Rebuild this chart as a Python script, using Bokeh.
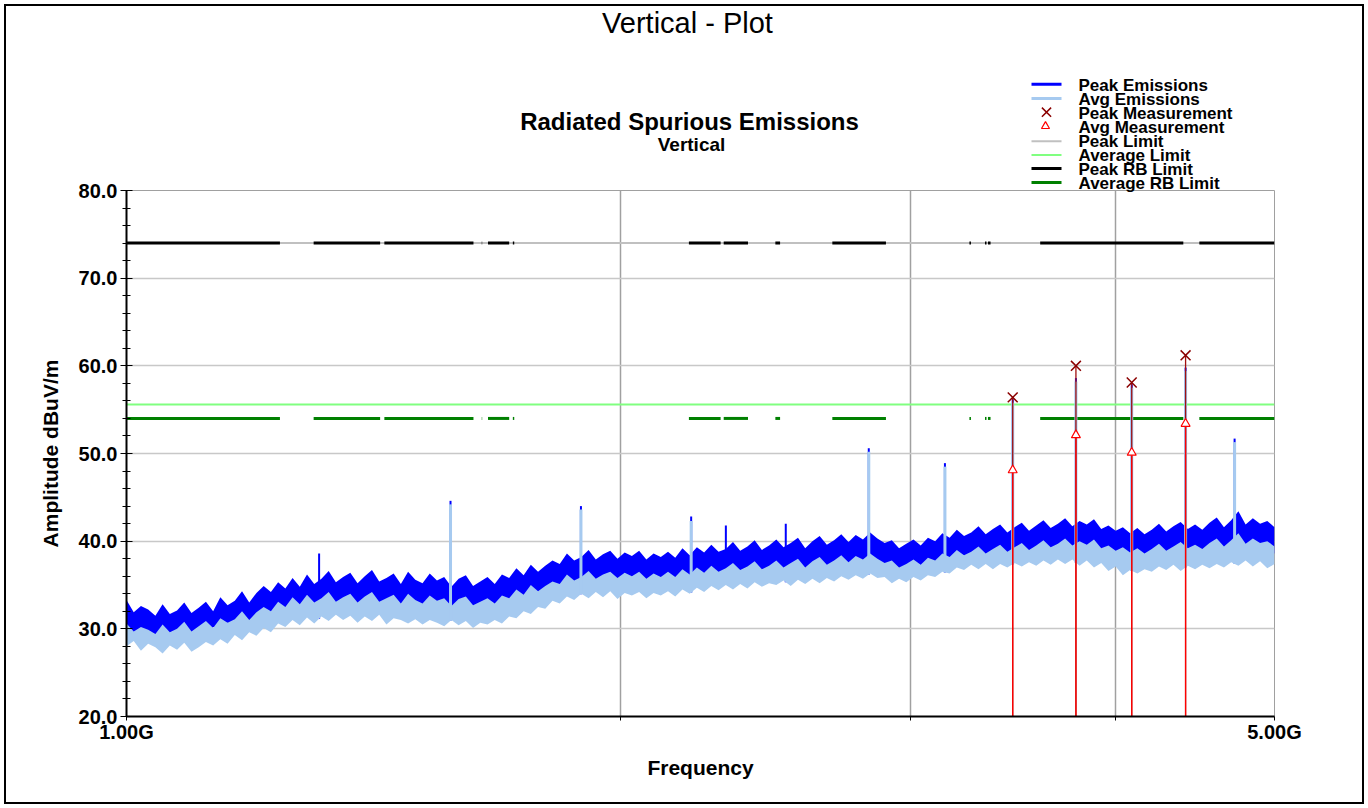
import numpy as np
from bokeh.plotting import figure
from bokeh.models import (Range1d, FixedTicker, SingleIntervalTicker, PrintfTickFormatter)
from bokeh.core.properties import value
from bokeh.embed import file_html
from bokeh.resources import INLINE

# ---------------- data ----------------
F_START, F_STOP = 1.0, 5.0          # GHz
x_ticks = [1.0, 2.0, 3.0, 4.0, 5.0]
x_tick_labels = {1.0: "1.00G", 2.0: "", 3.0: "", 4.0: "", 5.0: "5.00G"}

peak_hi = [
    33.3, 31.9, 32.6, 32.2, 31.5, 32.8, 31.7, 32.1, 33.0, 31.8,
    32.4, 33.1, 32.0, 33.6, 32.7, 33.2, 34.3, 33.0, 34.1, 34.9,
    34.2, 35.3, 34.6, 35.8, 34.8, 36.2, 35.1, 35.7, 36.6, 35.3,
    35.9, 36.4, 35.2, 36.0, 36.7, 35.4, 35.8, 36.3, 35.1, 36.5,
    35.6, 35.2, 36.3, 35.5, 35.9, 34.8, 35.7, 36.1, 34.9, 35.4,
    35.9, 35.1, 36.2, 35.8, 36.9, 36.1, 37.3, 36.5, 37.2, 37.8,
    37.4, 38.6, 37.8, 38.2, 39.0, 37.9, 38.5, 38.9, 38.0, 38.7,
    38.3, 38.9, 37.9, 38.6, 38.2, 38.8, 38.1, 39.2, 38.4, 39.3,
    38.7, 39.6, 38.8, 39.1, 39.9, 38.9, 39.4, 40.1, 39.0, 39.5,
    40.2, 39.3, 39.8, 40.4, 39.2, 40.0, 40.6, 39.6, 40.1, 40.8,
    39.9, 40.7, 40.2, 41.0, 40.3, 39.8, 40.1, 39.2, 39.7, 40.2,
    39.5, 40.4, 40.0, 40.9, 40.4, 41.3, 40.6, 41.0, 41.7, 40.8,
    41.4, 41.9, 41.0, 41.6, 42.1, 41.2, 41.8, 42.4, 41.5, 42.0,
    42.6, 41.7, 42.3, 41.9, 42.5, 41.4, 41.8, 41.2, 41.6, 40.9,
    41.5, 40.8, 41.3, 42.0, 41.1, 41.7, 42.2, 41.4, 41.9, 41.3,
    42.1, 42.7, 41.6, 42.4, 43.4, 41.9, 42.6, 42.0, 42.3, 41.6,
]
peak_lo = [
    29.6, 29.2, 29.8, 29.0, 29.4, 28.9, 29.5, 29.1, 29.6, 29.2,
    29.8, 29.4, 30.2, 29.9, 30.7, 30.3, 31.0, 30.6, 31.5, 31.2,
    31.9, 31.5, 32.4, 32.0, 32.7, 32.3, 32.9, 32.4, 32.8, 32.4,
    33.0, 32.6, 32.8, 32.3, 32.9, 32.5, 32.7, 32.2, 32.8, 32.4,
    32.7, 32.2, 32.9, 32.3, 32.6, 32.0, 32.5, 32.1, 32.3, 31.9,
    32.4, 32.2, 32.8, 32.6, 33.4, 33.1, 33.8, 33.5, 34.2, 33.9,
    34.7, 34.4, 35.2, 34.8, 35.4, 35.0, 35.6, 35.1, 35.4, 34.9,
    35.3, 34.9, 35.4, 34.8, 35.2, 34.9, 35.5, 35.2, 35.8, 35.5,
    35.9, 35.6, 36.1, 35.7, 36.2, 35.8, 36.3, 35.9, 36.4, 36.0,
    36.5, 36.1, 36.6, 36.2, 36.7, 36.3, 36.8, 36.4, 37.0, 36.6,
    37.1, 36.7, 37.4, 37.0, 37.6, 36.9, 36.5, 36.2, 36.6, 36.3,
    36.8, 36.5, 37.2, 37.0, 37.7, 37.4, 38.0, 37.7, 38.2, 37.8,
    38.3, 37.9, 38.4, 38.1, 38.5, 38.2, 38.7, 38.3, 39.0, 38.6,
    39.1, 38.7, 39.0, 38.6, 38.8, 38.4, 38.4, 38.0, 38.1, 37.8,
    38.0, 37.7, 38.4, 38.1, 38.6, 38.2, 38.5, 38.1, 38.7, 38.3,
    38.8, 38.5, 39.1, 38.7, 39.4, 38.9, 39.2, 38.8, 38.9, 38.6,
]
avg_hi = [
    30.6, 29.7, 30.2, 29.9, 29.4, 30.5, 29.6, 30.0, 30.8, 29.7,
    30.3, 30.9, 30.1, 31.2, 30.7, 31.1, 32.0, 31.0, 31.9, 32.5,
    32.0, 33.1, 32.5, 33.6, 32.8, 33.9, 33.0, 33.5, 34.2, 33.1,
    33.6, 34.0, 33.0, 33.7, 34.2, 33.1, 33.5, 33.9, 32.9, 34.0,
    33.3, 32.9, 33.8, 33.2, 33.5, 32.6, 33.4, 33.7, 32.7, 33.1,
    33.5, 32.9, 33.8, 33.5, 34.5, 33.9, 35.0, 34.3, 34.9, 35.4,
    35.1, 36.2, 35.5, 35.9, 36.6, 35.7, 36.2, 36.5, 35.8, 36.4,
    36.0, 36.5, 35.7, 36.3, 35.9, 36.5, 35.9, 36.8, 36.2, 37.0,
    36.4, 37.2, 36.5, 36.9, 37.5, 36.7, 37.1, 37.7, 36.8, 37.2,
    37.8, 37.0, 37.5, 38.0, 37.0, 37.7, 38.2, 37.3, 37.8, 38.4,
    37.6, 38.3, 37.9, 38.6, 38.0, 37.5, 37.8, 37.0, 37.4, 37.9,
    37.3, 38.1, 37.8, 38.6, 38.2, 39.0, 38.4, 38.8, 39.4, 38.6,
    39.1, 39.6, 38.8, 39.3, 39.8, 39.0, 39.5, 40.1, 39.3, 39.7,
    40.3, 39.5, 40.0, 39.6, 40.2, 39.2, 39.5, 38.9, 39.3, 38.7,
    39.2, 38.6, 39.1, 39.7, 38.9, 39.4, 39.9, 39.2, 39.6, 39.1,
    39.8, 40.3, 39.4, 40.1, 40.9, 39.7, 40.3, 39.8, 40.0, 39.4,
]
avg_lo = [
    28.0, 28.6, 27.5, 28.3, 27.9, 27.2, 28.1, 27.6, 28.4, 27.4,
    27.9, 28.5, 28.1, 28.8, 28.3, 29.3, 28.7, 29.6, 29.2, 30.1,
    29.6, 30.6, 30.2, 31.0, 30.4, 31.3, 30.6, 31.4, 30.9, 31.6,
    31.0, 31.5, 30.7, 31.4, 30.9, 31.6, 30.5, 31.2, 31.0, 30.6,
    31.1, 30.5, 31.0, 30.7, 30.3, 31.0, 30.4, 30.9, 30.1, 30.7,
    30.5, 31.0, 30.6, 31.4, 31.2, 32.0, 31.7, 32.5, 32.3, 33.2,
    32.9, 33.7, 33.3, 34.0, 33.5, 34.2, 33.6, 34.3, 33.4, 34.1,
    33.8, 34.2, 33.5, 34.1, 33.8, 34.3, 33.7, 34.5, 34.0, 34.7,
    34.2, 34.9, 34.4, 35.0, 34.5, 35.1, 34.6, 35.3, 34.8, 35.2,
    35.0, 35.5, 34.9, 35.6, 35.1, 35.7, 35.2, 35.8, 35.4, 36.0,
    35.6, 36.1, 35.7, 36.3, 35.8, 35.9, 35.2, 35.7, 35.3, 35.9,
    35.5, 36.1, 35.9, 36.5, 36.3, 37.0, 36.7, 37.3, 36.8, 37.4,
    36.8, 37.4, 37.0, 37.5, 37.1, 37.6, 37.2, 37.8, 37.3, 37.9,
    37.4, 37.9, 37.2, 37.8, 37.0, 37.5, 36.6, 37.1, 36.1, 36.7,
    36.3, 36.8, 36.5, 37.1, 36.7, 37.3, 36.6, 37.2, 36.8, 37.3,
    36.9, 37.4, 37.0, 37.6, 37.2, 37.8, 37.1, 37.7, 36.9, 37.4,
]

# narrow emissions (GHz, dBuV/m)
peak_spike_f = [1.310, 1.575, 1.891, 2.207, 2.317, 2.520, 2.831, 3.150, 3.464, 3.785, 4.093, 4.414, 4.728]
peak_spike_db = [38.6, 44.6, 44.0, 42.8, 41.8, 42.0, 50.6, 48.9, 56.2, 58.6, 57.9, 59.8, 51.7]
avg_spike_f = [1.575, 1.891, 2.207, 2.831, 3.150, 3.464, 3.785, 4.093, 4.414, 4.728]
avg_spike_db = [44.2, 43.6, 42.3, 50.2, 48.5, 55.8, 58.2, 57.5, 59.4, 51.3]

# measurements
meas_f = [3.464, 3.785, 4.093, 4.414]
peak_meas = [56.4, 60.0, 58.1, 61.2]
avg_meas = [48.1, 52.1, 50.1, 53.4]

# limits
peak_limit = 74.0
avg_limit = 55.6
rb_peak_limit = 74.0
rb_avg_limit = 54.0
rb_start = [1.0, 1.3, 1.4355, 1.6455, 1.66, 1.7188, 2.2, 2.31, 2.4835, 2.69, 3.26, 3.332, 3.3458, 3.6, 4.5]
rb_stop = [1.24, 1.427, 1.6265, 1.6465, 1.71, 1.7222, 2.3, 2.39, 2.5, 2.9, 3.267, 3.339, 3.358, 4.4, 5.0]

legend_names = ["Peak Emissions", "Avg Emissions", "Peak Measurement", "Avg Measurement",
                "Peak Limit", "Average Limit", "Peak RB Limit", "Average RB Limit"]
main_title = "Vertical - Plot"
chart_title = "Radiated Spurious Emissions"
chart_subtitle = "Vertical"

# ---------------- layout constants (pixels) ----------------
W, H = 1368, 808
FL, FR, FT, FB = 126, 1274, 190, 716
FONT = "Liberation Sans"

BLUE = "#0000FF"
SKY = "#A6CAF0"
LGREEN = "#80FF80"
DGREEN = "#008000"
GRAY = "#c0c0c0"
MAROON = "#8B0000"
STEM = "#A01010"
RED = "#FF0000"

freq = np.geomspace(F_START, F_STOP, len(peak_hi))

# ---------------- main chart ----------------
p = figure(width=W, height=H, x_axis_type="log",
           x_range=Range1d(F_START, F_STOP), y_range=Range1d(20, 80),
           output_backend="svg", toolbar_location=None,
           min_border_left=FL, min_border_right=W - FR,
           min_border_top=FT, min_border_bottom=H - FB)
p.background_fill_color = "white"
p.border_fill_alpha = 0
p.outline_line_color = "#a0a0a0"
p.outline_line_width = 1
p.styles = {"position": "absolute", "left": "0px", "top": "0px",
            "outline": "2px solid #000000", "outline-offset": "-6px"}

xa = p.xaxis[0]
ya = p.yaxis[0]
xa.ticker = FixedTicker(ticks=x_ticks, minor_ticks=[])
xa.major_label_overrides = x_tick_labels
ya.ticker = SingleIntervalTicker(interval=10, num_minor_ticks=5)
ya.formatter = PrintfTickFormatter(format="%.1f")
for ax in (xa, ya):
    ax.axis_line_color = "black"
    ax.axis_line_width = 2
    ax.major_tick_line_color = "black"
    ax.minor_tick_line_color = "black"
    ax.major_label_text_font = FONT
    ax.major_label_text_font_style = "bold"
    ax.major_label_text_font_size = "20px"
    ax.major_label_text_color = "black"
    ax.axis_label_text_font = FONT
    ax.axis_label_text_font_style = "bold"
    ax.axis_label_text_font_size = "21px"
    ax.axis_label_text_color = "black"
xa.axis_label = "Frequency"
xa.major_tick_in = 0
xa.major_tick_out = 4
xa.major_label_standoff = 0
xa.axis_label_standoff = 10
ya.axis_label = "Amplitude dBuV/m"
ya.major_tick_in = 6
ya.major_tick_out = 6
ya.minor_tick_in = 4
ya.minor_tick_out = 4
ya.major_label_standoff = 3
ya.axis_label_standoff = 14

p.xgrid.grid_line_color = "#a0a0a0"
p.xgrid.grid_line_width = 1.5
p.ygrid.grid_line_color = "#c8c8c8"
p.ygrid.grid_line_width = 1.5

# limits
n_rb = len(rb_start)
p.segment(x0=[F_START], x1=[F_STOP], y0=[peak_limit], y1=[peak_limit],
          line_color=GRAY, line_width=2)
p.segment(x0=[F_START], x1=[F_STOP], y0=[avg_limit], y1=[avg_limit],
          line_color=LGREEN, line_width=2)
p.segment(x0=rb_start, x1=rb_stop, y0=[rb_peak_limit] * n_rb, y1=[rb_peak_limit] * n_rb,
          line_color="black", line_width=3)
p.segment(x0=rb_start, x1=rb_stop, y0=[rb_avg_limit] * n_rb, y1=[rb_avg_limit] * n_rb,
          line_color=DGREEN, line_width=3)

# traces
lf = np.log(freq)
p.varea(x=freq, y1=peak_lo, y2=peak_hi, fill_color=BLUE)
pk_base = np.interp(np.log(peak_spike_f), lf, avg_lo)
p.segment(x0=peak_spike_f, x1=peak_spike_f, y0=pk_base, y1=peak_spike_db,
          line_color=BLUE, line_width=2)
p.varea(x=freq, y1=avg_lo, y2=avg_hi, fill_color=SKY)
av_base = np.interp(np.log(avg_spike_f), lf, avg_lo)
p.segment(x0=avg_spike_f, x1=avg_spike_f, y0=av_base, y1=avg_spike_db,
          line_color=SKY, line_width=3)

# measurement stems and markers
p.segment(x0=meas_f, x1=meas_f, y0=[20] * len(meas_f), y1=peak_meas,
          line_color=STEM, line_width=1.3)
p.segment(x0=meas_f, x1=meas_f, y0=[20] * len(meas_f), y1=avg_meas,
          line_color=RED, line_width=1.3)
p.scatter(x=meas_f, y=peak_meas, marker="x", size=14, line_color=MAROON, line_width=1.5)
p.scatter(x=meas_f, y=avg_meas, marker="triangle", size=9,
          line_color=RED, fill_color="white", line_width=1.2)

# ---------------- overlay for titles and legend (page pixel space) ----------------
q = figure(width=W, height=H, x_range=Range1d(0, W), y_range=Range1d(H, 0),
           output_backend="svg", toolbar_location=None,
           x_axis_location=None, y_axis_location=None, min_border=0)
q.grid.visible = False
q.outline_line_color = None
q.background_fill_alpha = 0
q.border_fill_alpha = 0
q.styles = {"position": "absolute", "left": "0px", "top": "0px"}

# titles
q.text(x=[687], y=[22], text=[main_title], text_font=value(FONT), text_font_size="29px",
       text_align="center", text_baseline="middle", text_color="black")
q.text(x=[689], y=[121], text=[chart_title], text_font=value(FONT), text_font_style="bold",
       text_font_size="24px", text_align="center", text_baseline="middle", text_color="black")
q.text(x=[691], y=[144], text=[chart_subtitle], text_font=value(FONT), text_font_style="bold",
       text_font_size="19px", text_align="center", text_baseline="middle", text_color="black")

# legend
row_text_y = [85.0, 99.0, 113.1, 127.1, 141.2, 155.2, 169.3, 183.3]
row_glyph_y = [83.7, 98.0, 111.7, 125.7, 140.7, 154.5, 168.0, 182.0]
GX0, GX1, TX = 1031, 1061, 1078
line_rows = [0, 1, 4, 5, 6, 7]
line_cols = [BLUE, SKY, GRAY, LGREEN, "black", DGREEN]
line_wids = [3, 3, 2, 2, 3, 3]
ly = [row_glyph_y[i] for i in line_rows]
q.segment(x0=[GX0] * len(ly), x1=[GX1] * len(ly), y0=ly, y1=ly,
          line_color=line_cols, line_width=line_wids)
q.scatter(x=[(GX0 + GX1) / 2], y=[row_glyph_y[2]], marker="x", size=13,
          line_color=MAROON, line_width=1.5)
q.scatter(x=[(GX0 + GX1) / 2 - 1], y=[row_glyph_y[3]], marker="triangle", size=8,
          line_color=RED, fill_color="white", line_width=1.2)
q.text(x=[TX] * len(legend_names), y=row_text_y, text=legend_names, text_font=value(FONT),
       text_font_style="bold", text_font_size="17px", text_align="left",
       text_baseline="middle", text_color="black")

open("out.html", "w").write(file_html([p, q], INLINE))
